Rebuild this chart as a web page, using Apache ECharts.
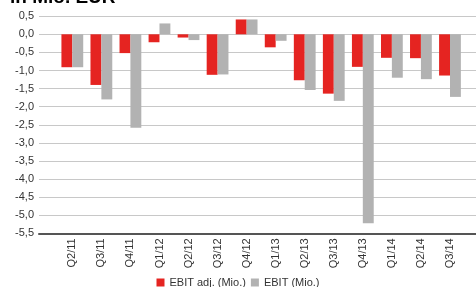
<!DOCTYPE html>
<html><head><meta charset="utf-8">
<script src="https://cdn.jsdelivr.net/npm/echarts@6/dist/echarts.min.js"></script>
<style>html,body{margin:0;padding:0;background:#fff}#c{width:476px;height:287px}</style>
</head><body><div id="c"></div>
<script>
const categories = ['Q2/11','Q3/11','Q4/11','Q1/12','Q2/12','Q3/12','Q4/12','Q1/13','Q2/13','Q3/13','Q4/13','Q1/14','Q2/14','Q3/14'];
const ebitAdj = [-0.91,-1.40,-0.52,-0.22,-0.09,-1.12,0.41,-0.36,-1.27,-1.64,-0.90,-0.65,-0.66,-1.14];
const ebit    = [-0.91,-1.80,-2.58,0.30,-0.16,-1.11,0.41,-0.18,-1.54,-1.84,-5.22,-1.20,-1.24,-1.73];
const yTicks = {min:-5.5, max:0.5, interval:0.5};
const titleText = 'in Mio. EUR';
const seriesNames = ['EBIT adj. (Mio.)','EBIT (Mio.)'];

const font = 'Liberation Sans';
const chart = echarts.init(document.getElementById('c'), null, {renderer:'canvas'});
chart.setOption({
  animation:false,
  textStyle:{fontFamily:font},
  graphic:[{type:'text', x:10, y:-12, z:-1, style:{text:titleText, font:'bold 19px "Liberation Sans"', fill:'#000', verticalAlign:'top'}}],
  legend:{top:272, left:'center', itemWidth:8, itemHeight:8, itemGap:5,
    icon:'rect', textStyle:{fontSize:11, color:'#333', fontFamily:font},
    data:seriesNames},
  grid:[
    {left:39, right:0, top:16.2, bottom:53.7, containLabel:false},
    {left:57.8, right:11.5, top:16.2, bottom:53.7, containLabel:false}
  ],
  xAxis:[
    {gridIndex:0, type:'value', min:0, max:1, axisLine:{show:true, onZero:false, lineStyle:{color:'#555', width:2}},
     axisTick:{show:false}, axisLabel:{show:false}, splitLine:{show:false}},
    {gridIndex:1, type:'category', data:categories, boundaryGap:true,
     axisLine:{show:false}, axisTick:{show:false},
     axisLabel:{rotate:90, margin:5, fontSize:11, color:'#333', fontFamily:font, interval:0}}
  ],
  yAxis:[
    {gridIndex:0, type:'value', min:yTicks.min, max:yTicks.max, interval:yTicks.interval,
     axisLine:{show:false}, axisTick:{show:false},
     axisLabel:{fontSize:11, color:'#333', margin:5, fontFamily:font, showMaxLabel:true, showMinLabel:true,
       formatter:v=>v.toFixed(1).replace('.',',')},
     splitLine:{lineStyle:{color:'#c8c8c8', width:1}}},
    {gridIndex:1, type:'value', min:yTicks.min, max:yTicks.max, interval:yTicks.interval,
     show:false, splitLine:{show:false}}
  ],
  series:[
    {name:seriesNames[0], type:'bar', xAxisIndex:1, yAxisIndex:1, data:ebitAdj,
     itemStyle:{color:'#e52421'}, barGap:'0%', barCategoryGap:'25%'},
    {name:seriesNames[1], type:'bar', xAxisIndex:1, yAxisIndex:1, data:ebit,
     itemStyle:{color:'#b2b2b2'}, barGap:'0%', barCategoryGap:'25%'}
  ]
});
</script></body></html>
